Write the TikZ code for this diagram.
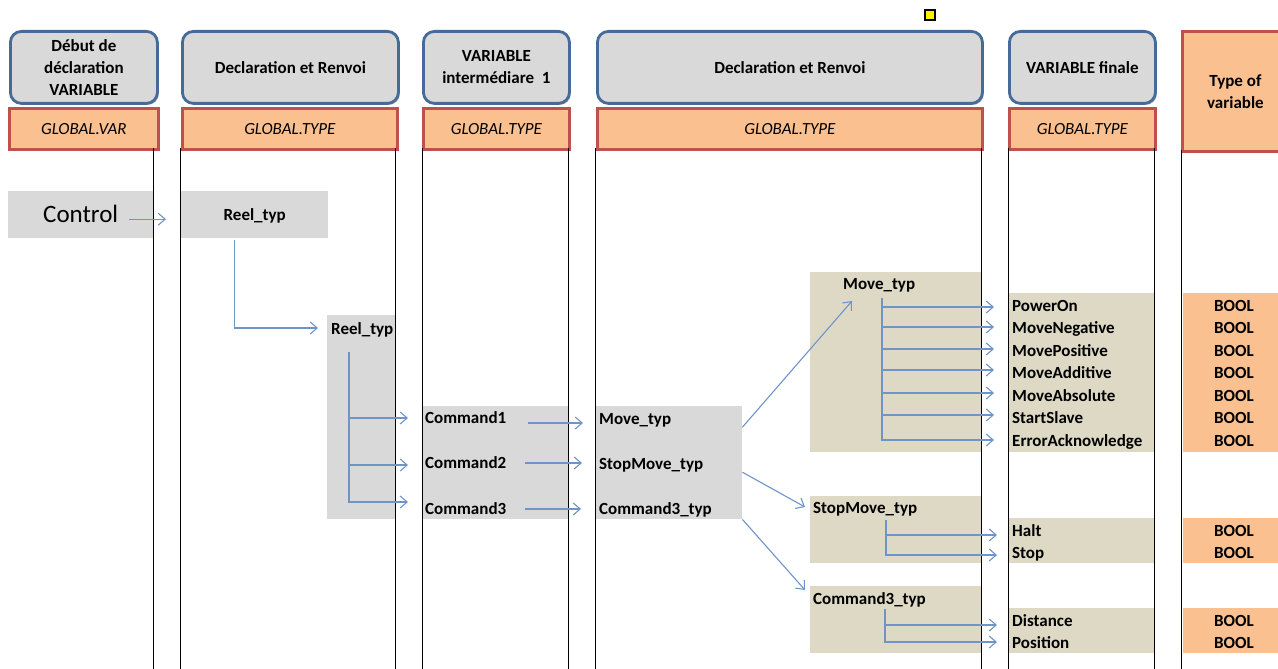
\documentclass[tikz,border=0pt]{standalone}
\usepackage{fontspec}
\setmainfont{Carlito}
\usetikzlibrary{arrows.meta,shadows}
\definecolor{hdrfill}{HTML}{D9D9D9}
\definecolor{hdrblue}{HTML}{476B99}
\definecolor{orf}{HTML}{FAC090}
\definecolor{redb}{HTML}{C0504D}
\definecolor{grayb}{HTML}{D9D9D9}
\definecolor{tanb}{HTML}{DDD9C4}
\definecolor{arrblue}{HTML}{6E94C8}
\begin{document}
\begin{tikzpicture}[x=1pt,y=-1pt,
  wh/.style 2 args={minimum width=#1pt,minimum height=#2pt,anchor=north west,inner sep=0pt},
  hdr/.style={draw=hdrblue,line width=2.8pt,fill=hdrfill,rounded corners=11pt,align=center,
     font=\fontsize{17}{22}\selectfont\bfseries,
     drop shadow={shadow xshift=1.5pt,shadow yshift=-1.5pt,fill=black,opacity=0.3}},
  glob/.style={draw=redb,line width=2.8pt,fill=orf,font=\fontsize{17}{21}\selectfont\itshape,
     drop shadow={shadow xshift=1.5pt,shadow yshift=-1.5pt,fill=black,opacity=0.3}},
  gbox/.style={fill=grayb},
  tbox/.style={fill=tanb},
  obox/.style={fill=orf},
  lbl/.style={font=\fontsize{17}{21}\selectfont\bfseries,inner sep=0pt,text height=11pt,text depth=0pt,anchor=west},
  clbl/.style={lbl,anchor=center},
  vline/.style={draw=black,line width=1pt},
  arr/.style={draw=arrblue,line width=1.1pt,-{Straight Barb[length=7pt,width=12pt]}}
]
\useasboundingbox (0,0) rectangle (1278,669);
\begin{scope}
\clip (0,0) rectangle (1278,669);

% header row
\node[hdr,wh={147}{72}] (h1) at (9,30) {Début de\\déclaration\\VARIABLE};
\node[hdr,wh={216}{72}] (h2) at (181,30) {Declaration et Renvoi};
\node[hdr,wh={146}{72}] (h3) at (422,30) {VARIABLE\\intermédiare\ \ 1};
\node[hdr,wh={385}{72}] (h4) at (596,30) {Declaration et Renvoi};
\node[hdr,wh={146}{72}] (h5) at (1008,30) {VARIABLE finale};
\node[glob,wh={149}{41}] (g1) at (8,107) {GLOBAL.VAR};
\node[glob,wh={215}{41}] (g2) at (181,107) {GLOBAL.TYPE};
\node[glob,wh={146}{41}] (g3) at (422,107) {GLOBAL.TYPE};
\node[glob,wh={385}{41}] (g4) at (596,107) {GLOBAL.TYPE};
\node[glob,wh={146}{41}] (g5) at (1008,107) {GLOBAL.TYPE};
\node[glob,wh={106}{120},font=\fontsize{17}{22}\selectfont\bfseries,align=center] (tv) at (1181,30) {Type of\\variable};

% marker
\node[draw=black,fill=yellow,line width=1.5pt,minimum size=10pt,inner sep=0pt] (marker) at (930,15) {};

% boxes
\node[gbox,wh={145}{47},font=\fontsize{25}{30}\selectfont,text height=16pt,text depth=0pt] (ctrl) at (8,191) {Control};
\node[gbox,wh={147}{47},font=\fontsize{17}{21}\selectfont\bfseries,text height=11pt,text depth=0pt] (reel1) at (181,191) {Reel\_typ};
\node[gbox,wh={68}{204}] (reel2box) at (327,315) {};
\node[lbl] (reel2) at (331,329) {Reel\_typ};
\node[gbox,wh={146}{113}] (cmdbox) at (422,406) {};
\node[lbl] (cmd1) at (425,418) {Command1};
\node[lbl] (cmd2) at (425,463) {Command2};
\node[lbl] (cmd3) at (425,509) {Command3};
\node[gbox,wh={147}{113}] (movbox) at (595,406) {};
\node[lbl] (mv1) at (599,419) {Move\_typ};
\node[lbl] (mv2) at (599,464) {StopMove\_typ};
\node[lbl] (mv3) at (599,509) {Command3\_typ};

\node[tbox,wh={171}{180}] (tan1) at (810,272) {};
\node[lbl] (mvt) at (843,284) {Move\_typ};
\node[tbox,wh={146}{159}] (tan1r) at (1008,293) {};
\node[obox,wh={95}{159}] (bool1box) at (1183,293) {};
\node[lbl] (p1) at (1012,306) {PowerOn};
\node[lbl] (p2) at (1012,328) {MoveNegative};
\node[lbl] (p3) at (1012,351) {MovePositive};
\node[lbl] (p4) at (1012,373) {MoveAdditive};
\node[lbl] (p5) at (1012,396) {MoveAbsolute};
\node[lbl] (p6) at (1012,418) {StartSlave};
\node[lbl] (p7) at (1012,441) {ErrorAcknowledge};
\node[clbl] (b1) at (1234,306) {BOOL};
\node[clbl] (b2) at (1234,328) {BOOL};
\node[clbl] (b3) at (1234,351) {BOOL};
\node[clbl] (b4) at (1234,373) {BOOL};
\node[clbl] (b5) at (1234,396) {BOOL};
\node[clbl] (b6) at (1234,418) {BOOL};
\node[clbl] (b7) at (1234,441) {BOOL};

\node[tbox,wh={171}{67}] (tan2) at (810,496) {};
\node[lbl] (stt) at (813,508) {StopMove\_typ};
\node[tbox,wh={146}{45}] (tan2r) at (1008,518) {};
\node[obox,wh={95}{45}] (bool2box) at (1183,518) {};
\node[lbl] (halt) at (1012,531) {Halt};
\node[lbl] (stop) at (1012,553) {Stop};
\node[clbl] (b8) at (1234,531) {BOOL};
\node[clbl] (b9) at (1234,553) {BOOL};

\node[tbox,wh={171}{67}] (tan3) at (810,586) {};
\node[lbl] (c3t) at (813,599) {Command3\_typ};
\node[tbox,wh={146}{45}] (tan3r) at (1008,608) {};
\node[obox,wh={95}{45}] (bool3box) at (1183,608) {};
\node[lbl] (dist) at (1012,621) {Distance};
\node[lbl] (pos) at (1012,643) {Position};
\node[clbl] (b10) at (1234,621) {BOOL};
\node[clbl] (b11) at (1234,643) {BOOL};

% column lines
\draw[vline] (153,148) -- (153,669);
\draw[vline] (180,148) -- (180,669);
\draw[vline] (395,148) -- (395,669);
\draw[vline] (422,148) -- (422,669);
\draw[vline] (568,148) -- (568,669);
\draw[vline] (595,148) -- (595,669);
\draw[vline] (981,148) -- (981,669);
\draw[vline] (1008,148) -- (1008,669);
\draw[vline] (1154,148) -- (1154,669);
\draw[vline] (1181,150) -- (1181,669);

% connectors
\draw[arr] ([xshift=-24pt,yshift=-4.5pt]ctrl.east) -- ([xshift=-15pt,yshift=-4.5pt]reel1.west);
\draw[arr] ([xshift=-20.5pt,yshift=-2pt]reel1.south) |- ([xshift=-13pt,yshift=1pt]reel2.west);
\coordinate (rb) at ([xshift=18pt,yshift=-23pt]reel2.west);
\draw[arr] (rb) |- ([xshift=-17pt]cmd1.west);
\draw[arr] (rb) |- ([xshift=-17pt,yshift=-2pt]cmd2.west);
\draw[arr] (rb) |- ([xshift=-17pt,yshift=7pt]cmd3.west);

\draw[arr] ([xshift=103pt,yshift=-5pt]cmd1.west) -- ([xshift=-16pt,yshift=-4pt]mv1.west);
\draw[arr] ([xshift=100pt]cmd2.west) -- ([xshift=-17pt,yshift=1pt]mv2.west);
\draw[arr] ([xshift=100pt]cmd3.west) -- ([xshift=-18pt]mv3.west);

\draw[arr] ([yshift=35.5pt]movbox.east) -- ([xshift=9pt,yshift=-17pt]mvt.west);
\draw[arr] ([yshift=-9.5pt]movbox.east) -- ([xshift=-8pt,yshift=1pt]stt.west);
\draw[arr] (movbox.south east) -- ([xshift=-8pt,yshift=9pt]c3t.west);

\coordinate (mb) at ([xshift=39pt,yshift=-14pt]mvt.west);
\draw[arr] (mb) |- ([xshift=-18pt,yshift=-1pt]p1.west);
\draw[arr] (mb) |- ([xshift=-18pt,yshift=1pt]p2.west);
\draw[arr] (mb) |- ([xshift=-18pt,yshift=2pt]p3.west);
\draw[arr] (mb) |- ([xshift=-18pt,yshift=3pt]p4.west);
\draw[arr] (mb) |- ([xshift=-18pt,yshift=3pt]p5.west);
\draw[arr] (mb) |- ([xshift=-18pt,yshift=3pt]p6.west);
\draw[arr] (mb) |- ([xshift=-18pt,yshift=1pt]p7.west);

\coordinate (sb) at ([xshift=73pt,yshift=-12pt]stt.west);
\draw[arr] (sb) |- ([xshift=-15pt,yshift=-4pt]halt.west);
\draw[arr] (sb) |- ([xshift=-15pt,yshift=-2pt]stop.west);

\coordinate (cb) at ([xshift=72pt,yshift=-10pt]c3t.west);
\draw[arr] (cb) |- ([xshift=-15pt,yshift=-4pt]dist.west);
\draw[arr] (cb) |- ([xshift=-15pt,yshift=1pt]pos.west);
\end{scope}
\end{tikzpicture}
\end{document}
